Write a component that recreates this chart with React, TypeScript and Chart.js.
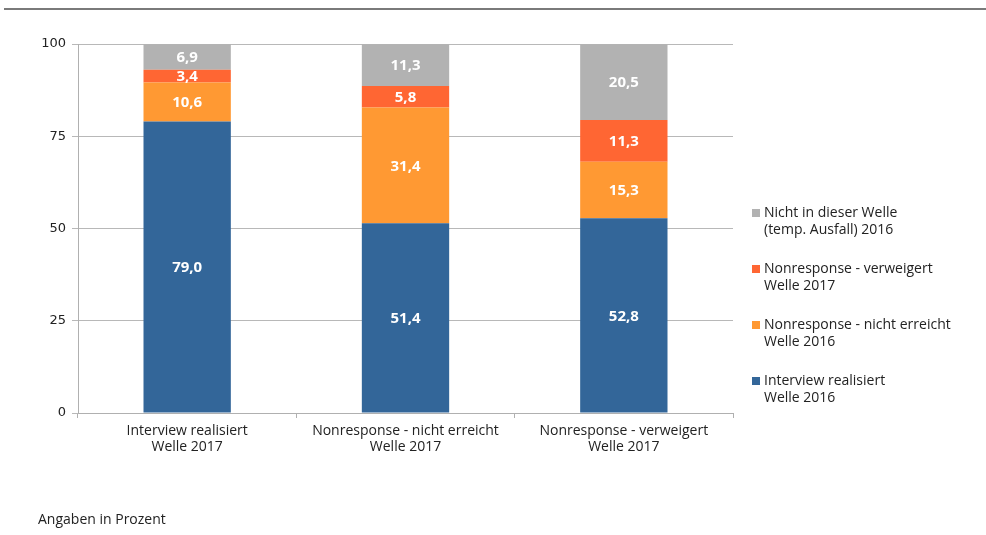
import React, { useEffect, useRef } from "react";
import { Chart, registerables } from "chart.js";

Chart.register(...registerables);

const categories: string[][] = [
  ["Interview realisiert", "Welle 2017"],
  ["Nonresponse - nicht erreicht", "Welle 2017"],
  ["Nonresponse - verweigert", "Welle 2017"],
];

const seriesNames: string[][] = [
  ["Interview realisiert", "Welle 2016"],
  ["Nonresponse - nicht erreicht", "Welle 2016"],
  ["Nonresponse - verweigert", "Welle 2017"],
  ["Nicht in dieser Welle", "(temp. Ausfall) 2016"],
];

const interviewRealisiert = [79.0, 51.4, 52.8];
const nichtErreicht = [10.6, 31.4, 15.3];
const verweigert = [3.4, 5.8, 11.3];
const nichtInWelle = [6.9, 11.3, 20.5];

const colors = ["#336699", "#FF9933", "#FF6633", "#B2B2B2"];
const yTicks = [0, 25, 50, 75, 100];
const footnote = "Angaben in Prozent";

const FONT = "'Open Sans', sans-serif";

const overlayPlugin = {
  id: "overlay",
  beforeDraw(chart: any) {
    const ctx = chart.ctx;
    ctx.save();
    ctx.strokeStyle = "#7a7a7a";
    ctx.lineWidth = 2;
    ctx.beginPath();
    ctx.moveTo(4, 9);
    ctx.lineTo(986, 9);
    ctx.stroke();
    ctx.restore();
  },
  afterDatasetsDraw(chart: any) {
    const ctx = chart.ctx;
    ctx.save();
    ctx.fillStyle = "#ffffff";
    ctx.font = `bold 15px ${FONT}`;
    ctx.textAlign = "center";
    ctx.textBaseline = "middle";
    chart.data.datasets.forEach((ds: any, i: number) => {
      const meta = chart.getDatasetMeta(i);
      meta.data.forEach((el: any, j: number) => {
        const v = ds.data[j];
        const cy = (el.y + el.base) / 2;
        ctx.fillText(v.toFixed(1).replace(".", ","), el.x, cy + 1);
      });
    });
    ctx.restore();
  },
  afterDraw(chart: any) {
    const ctx = chart.ctx;
    ctx.save();
    ctx.font = `14px ${FONT}`;
    ctx.textBaseline = "middle";
    ctx.textAlign = "left";
    const order = [3, 2, 1, 0];
    const startY = 213;
    const gap = 56;
    order.forEach((idx, k) => {
      const y = startY + k * gap;
      ctx.fillStyle = colors[idx];
      ctx.fillRect(752, y - 4, 8, 8);
      ctx.fillStyle = "#222222";
      seriesNames[idx].forEach((line, li) => {
        ctx.fillText(line, 764, y + li * 17);
      });
    });
    ctx.fillStyle = "#222222";
    ctx.fillText(footnote, 38, 520);
    ctx.restore();
  },
};

export default function App() {
  const ref = useRef<HTMLCanvasElement>(null);
  useEffect(() => {
    if (!ref.current) return;
    const seriesData = [interviewRealisiert, nichtErreicht, verweigert, nichtInWelle];
    const chart = new Chart(ref.current, {
      type: "bar",
      data: {
        labels: categories,
        datasets: seriesData.map((d, i) => ({
          label: seriesNames[i].join(" "),
          data: d,
          backgroundColor: colors[i],
          borderWidth: 0,
          categoryPercentage: 1,
          barPercentage: 0.4,
        })),
      },
      options: {
        animation: false,
        responsive: false,
        maintainAspectRatio: false,
        layout: { padding: { left: 0, right: 253, top: 44, bottom: 62 } },
        plugins: { legend: { display: false }, tooltip: { enabled: false } },
        scales: {
          x: {
            stacked: true,
            afterFit: (s: any) => { s.height = 60; },
            grid: {
              offset: true,
              drawOnChartArea: false,
              drawTicks: true,
              tickLength: 5,
              color: "#b0b0b0",
            },
            border: { color: "#b0b0b0" },
            ticks: {
              color: "#222222",
              font: { family: FONT, size: 14, lineHeight: 1.15 },
              padding: 5,
              maxRotation: 0,
              autoSkip: false,
            },
          },
          y: {
            stacked: true,
            min: 0,
            max: 100,
            afterFit: (s: any) => { s.width = 78; },
            afterBuildTicks: (s: any) => { s.ticks = yTicks.map((v) => ({ value: v })); },
            grid: { color: "#b8b8b8", tickLength: 6 },
            border: { color: "#b0b0b0" },
            ticks: {
              color: "#222222",
              font: { family: "'DejaVu Sans', sans-serif", size: 13 },
              padding: 6,
            },
          },
        },
      },
      plugins: [overlayPlugin],
    });
    return () => chart.destroy();
  }, []);
  return (
    <div style={{ position: "fixed", left: 0, top: 0, width: 986, height: 535, background: "#fff" }}>
      <canvas ref={ref} width={986} height={535} style={{ width: 986, height: 535 }} />
    </div>
  );
}
